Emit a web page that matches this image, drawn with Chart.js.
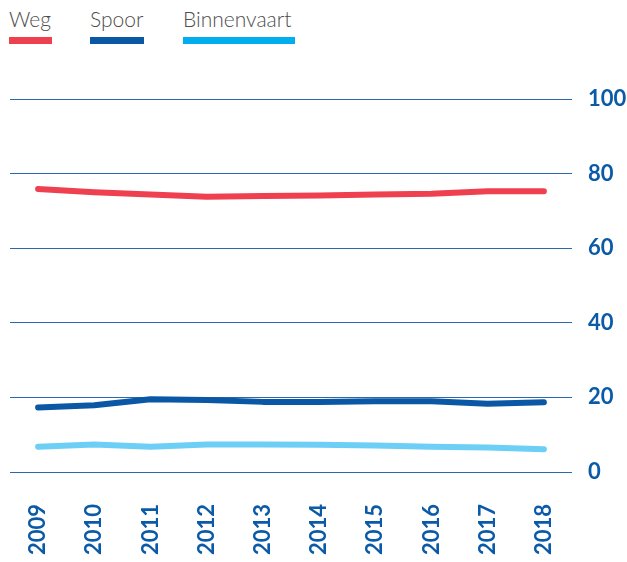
<!DOCTYPE html>
<html lang="nl">
<head>
  <meta charset="UTF-8">
  <title>Modal split</title>
  <script src="https://cdn.jsdelivr.net/npm/chart.js"></script>
  <style>
    body {
      margin: 0;
      width: 627px;
      height: 562px;
      position: relative;
      background: #fff;
      font-family: Lato, sans-serif;
      overflow: hidden;
    }
    #wrap {
      position: absolute;
      left: 0;
      top: 0;
      width: 627px;
      height: 562px;
    }
    .legend {
      position: absolute;
      top: 6px;
      left: 0;
    }
    .item {
      position: absolute;
      top: 0;
      font-weight: 300;
      font-size: 21px;
      color: #4d4d4d;
      white-space: nowrap;
      line-height: 26px;
    }
    .item span {
      display: block;
      height: 7px;
      margin-top: 5px;
    }
  </style>
</head>
<body>
  <div class="legend" id="legend"></div>
  <div id="wrap"><canvas id="chart" width="627" height="562"></canvas></div>

  <script>
    // jaren
    const years = ['2009', '2010', '2011', '2012', '2013', '2014', '2015', '2016', '2017', '2018'];

    // aandeel per modaliteit (%)
    const weg = [75.9, 75.0, 74.4, 73.8, 74.0, 74.1, 74.4, 74.6, 75.3, 75.3];
    const spoor = [17.3, 17.9, 19.5, 19.3, 18.8, 18.8, 19.0, 19.0, 18.3, 18.7];
    const binnenvaart = [6.8, 7.4, 6.8, 7.4, 7.4, 7.3, 7.1, 6.8, 6.6, 6.1];

    const yTicks = [0, 20, 40, 60, 80, 100];

    const series = [
      { label: 'Weg', data: weg, line: '#ef4050', key: '#ef4050', x: 9, w: 43 },
      { label: 'Spoor', data: spoor, line: '#0a58a5', key: '#0a58a5', x: 90, w: 54 },
      { label: 'Binnenvaart', data: binnenvaart, line: '#6dcff6', key: '#00aeef', x: 183, w: 112 }
    ];

    // legenda met balkje onder de tekst
    const legend = document.getElementById('legend');
    series.forEach(s => {
      const el = document.createElement('div');
      el.className = 'item';
      el.style.left = s.x + 'px';
      el.textContent = s.label;
      const bar = document.createElement('span');
      bar.style.background = s.key;
      bar.style.width = s.w + 'px';
      el.appendChild(bar);
      legend.appendChild(el);
    });

    const blue = '#0b5aa8';

    new Chart(document.getElementById('chart').getContext('2d'), {
      type: 'line',
      data: {
        labels: years,
        datasets: series.map(s => ({
          label: s.label,
          data: s.data,
          borderColor: s.line,
          backgroundColor: s.line,
          borderWidth: 6,
          borderCapStyle: 'round',
          borderJoinStyle: 'round',
          pointRadius: 0,
          fill: false,
          tension: 0
        }))
      },
      options: {
        responsive: false,
        animation: false,
        layout: {
          padding: { top: 99, left: 10, right: 0, bottom: 0 }
        },
        plugins: {
          legend: { display: false },
          tooltip: { enabled: false }
        },
        scales: {
          x: {
            offset: true,
            grid: { display: false, drawTicks: false },
            border: { display: false },
            afterFit: scale => { scale.height = 90; },
            ticks: {
              color: blue,
              font: { family: 'Lato', weight: 'bold', size: 22 },
              maxRotation: 90,
              minRotation: 90,
              padding: 32
            }
          },
          y: {
            position: 'right',
            min: 0,
            max: 100,
            afterBuildTicks: axis => {
              axis.ticks = yTicks.map(v => ({ value: v }));
            },
            afterFit: scale => { scale.width = 55; },
            grid: {
              color: '#2a68ad',
              lineWidth: 1,
              drawTicks: false
            },
            border: { display: false },
            ticks: {
              color: blue,
              font: { family: 'Lato', weight: 'bold', size: 22 },
              padding: 16
            }
          }
        }
      }
    });
  </script>
</body>
</html>
